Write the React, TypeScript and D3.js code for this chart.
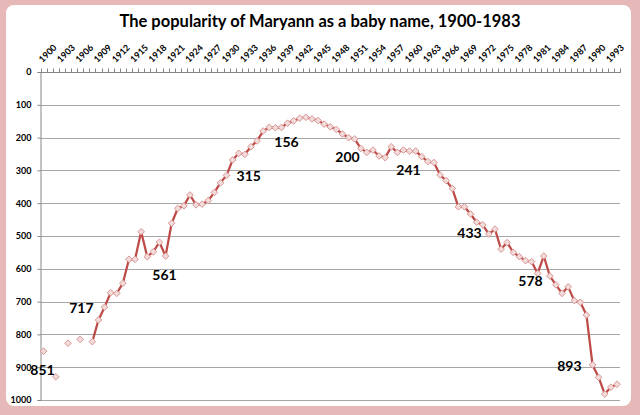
import { useEffect, useRef } from "react";
import * as d3 from "d3";

// rank of "Maryann" per year, null = not in top 1000
const firstYear = 1900;
const ranks: (number | null)[] = [
  851, null, 929, null, 827, null, 815, null, 822, 756, // 1900-1909
  717, 673, 675, 644, 571, 571, 487, 563, 548, 519, // 1910-1919
  561, 461, 416, 408, 375, 405, 403, 392, 367, 338, // 1920-1929
  315, 268, 248, 251, 228, 210, 180, 169, 170, 169, // 1930-1939
  156, 149, 141, 138, 143, 148, 159, 167, 175, 189, // 1940-1949
  200, 204, 233, 245, 238, 256, 261, 228, 245, 238, // 1950-1959
  241, 241, 258, 273, 276, 314, 331, 355, 411, 411, // 1960-1969
  433, 458, 466, 494, 479, 540, 520, 550, 563, 575, // 1970-1979
  578, 614, 561, 622, 649, 675, 655, 697, 702, 741, // 1980-1989
  893, 931, 982, 961, 952, // 1990-1994
];

const tickYears = [
  1900, 1903, 1906, 1909, 1912, 1915, 1918, 1921, 1924, 1927, 1930, 1933,
  1936, 1939, 1942, 1945, 1948, 1951, 1954, 1957, 1960, 1963, 1966, 1969,
  1972, 1975, 1978, 1981, 1984, 1987, 1990, 1993,
];
const rankTicks = [0, 100, 200, 300, 400, 500, 600, 700, 800, 900, 1000];

// decade values written on the chart, and where the text sits
const labelYears = [1900, 1910, 1920, 1930, 1940, 1950, 1960, 1970, 1980, 1990];
const labelSide = ["below", "left", "below", "right", "below", "below", "below", "below", "below", "left"];

const title = "The popularity of Maryann as a baby name, 1900-1983";

const App = () => {
  const svgRef = useRef<SVGSVGElement | null>(null);

  useEffect(() => {
    if (!svgRef.current) return;
    const svg = d3.select(svgRef.current);
    svg.selectAll("*").remove();

    const width = 640;
    const height = 415;
    const font = "Lato, 'Open Sans', sans-serif";
    const years = ranks.map((_, i) => firstYear + i);

    // frame
    svg.append("rect").attr("width", width).attr("height", height).attr("fill", "#E6B9B8");
    svg
      .append("rect")
      .attr("x", 6)
      .attr("y", 5)
      .attr("width", 625)
      .attr("height", 401)
      .attr("rx", 8)
      .attr("fill", "#ffffff");

    svg
      .append("text")
      .attr("x", 320)
      .attr("y", 27)
      .attr("text-anchor", "middle")
      .style("font-family", font)
      .style("font-size", "16.5px")
      .style("font-weight", "700")
      .text(title);

    const x = d3
      .scaleBand<number>()
      .domain(years)
      .range([40.5, 620]);
    const cx = (yr: number) => (x(yr) || 0) + x.bandwidth() / 2;

    const y = d3.scaleLinear().domain([0, 1000]).range([72, 400]);

    // gridlines
    svg
      .append("g")
      .selectAll("line")
      .data(rankTicks.slice(1))
      .enter()
      .append("line")
      .attr("x1", 40.5)
      .attr("x2", 620)
      .attr("y1", (d) => Math.round(y(d)) + 0.5)
      .attr("y2", (d) => Math.round(y(d)) + 0.5)
      .attr("stroke", "#A6A6A6")
      .attr("stroke-width", 1);

    // y axis
    const yAxis = svg
      .append("g")
      .attr("transform", "translate(40.5,0)")
      .call(d3.axisLeft(y).tickValues(rankTicks).tickSize(3).tickPadding(6).tickFormat(d3.format("d")));
    yAxis.select(".domain").attr("stroke", "#868686");
    yAxis.selectAll(".tick line").attr("stroke", "#868686");
    yAxis
      .selectAll("text")
      .style("font-family", font)
      .style("font-size", "9px")
      .style("font-weight", "700")
      .attr("fill", "#000");

    // x axis along the top, ticks at category boundaries
    const xAxis = svg.append("g");
    xAxis
      .append("line")
      .attr("x1", 40.5)
      .attr("x2", 620)
      .attr("y1", 72.5)
      .attr("y2", 72.5)
      .attr("stroke", "#868686");
    xAxis
      .selectAll(".xt")
      .data(years.concat([firstYear + ranks.length]))
      .enter()
      .append("line")
      .attr("class", "xt")
      .attr("x1", (d) => Math.round(40.5 + (d - firstYear) * x.step()) + 0.5)
      .attr("x2", (d) => Math.round(40.5 + (d - firstYear) * x.step()) + 0.5)
      .attr("y1", 68.5)
      .attr("y2", 73)
      .attr("stroke", "#868686");
    xAxis
      .selectAll(".xl")
      .data(tickYears)
      .enter()
      .append("text")
      .attr("class", "xl")
      .attr("transform", (d) => `translate(${cx(d) - 1},63) rotate(-45)`)
      .style("font-family", font)
      .style("font-size", "9px")
      .style("font-weight", "700")
      .text((d) => d);

    const pts = years.map((yr, i) => ({ year: yr, rank: ranks[i] }));

    const line = d3
      .line<{ year: number; rank: number | null }>()
      .defined((d) => d.rank !== null)
      .x((d) => cx(d.year))
      .y((d) => y(d.rank as number));

    svg
      .append("path")
      .datum(pts)
      .attr("d", line)
      .attr("fill", "none")
      .attr("stroke", "#BE4B48")
      .attr("stroke-width", 2.25)
      .attr("stroke-linejoin", "round");

    const diamond = d3.symbol().type(d3.symbolDiamond2).size(28);
    svg
      .append("g")
      .selectAll("path")
      .data(pts.filter((d) => d.rank !== null))
      .enter()
      .append("path")
      .attr("d", diamond)
      .attr("transform", (d) => `translate(${cx(d.year)},${y(d.rank as number)})`)
      .attr("fill", "#F2DCDB")
      .attr("stroke", "#D99694")
      .attr("stroke-width", 1);

    // decade labels
    svg
      .append("g")
      .selectAll("text")
      .data(labelYears)
      .enter()
      .append("text")
      .attr("x", (d, i) => {
        const px = cx(d);
        if (labelSide[i] === "left") return px - 11;
        if (labelSide[i] === "right") return px + 10;
        return px - 1;
      })
      .attr("y", (d, i) => {
        const py = y(ranks[d - firstYear] as number);
        return labelSide[i] === "below" ? py + 24 : py + 6;
      })
      .attr("text-anchor", (_, i) =>
        labelSide[i] === "left" ? "end" : labelSide[i] === "right" ? "start" : "middle"
      )
      .style("font-family", font)
      .style("font-size", "14px")
      .style("font-weight", "700")
      .text((d) => String(ranks[d - firstYear]));
  }, []);

  return (
    <div style={{ position: "absolute", left: 0, top: 0, width: 640, height: 415 }}>
      <svg ref={svgRef} width={640} height={415} style={{ display: "block" }}></svg>
    </div>
  );
};

export default App;
